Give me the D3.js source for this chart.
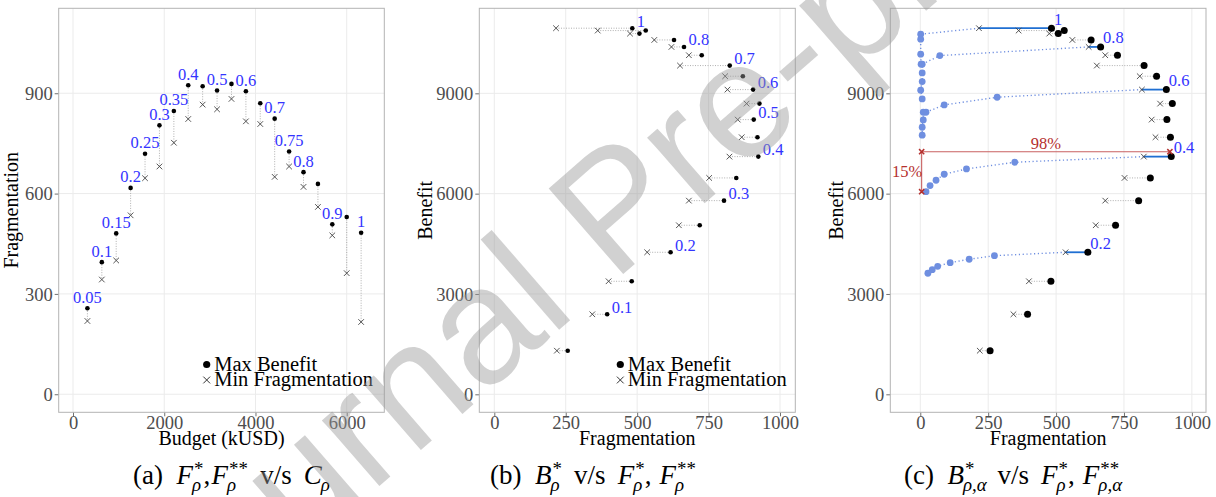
<!DOCTYPE html>
<html><head><meta charset="utf-8">
<script src="https://cdn.jsdelivr.net/npm/d3@7"></script>
<style>body{margin:0;background:#fff} svg{display:block}</style>
</head><body><svg id="chart" width="1216" height="497"></svg>
<script>
// ---------------- data ----------------
const rho = [0.05,0.1,0.15,0.2,0.25,0.3,0.35,0.4,0.45,0.5,0.55,0.6,0.65,0.7,0.75,0.8,0.85,0.9,0.95,1];
const budget = [316,632,947,1263,1579,1895,2211,2526,2842,3158,3474,3790,4105,4421,4737,5053,5369,5684,6000,6316];
const fragMaxBenefit = [257,395,481,617,719,804,847,924,921,908,928,906,870,824,726,664,629,508,530,483];
const fragMinFrag = [219,343,400,535,646,681,752,823,866,852,883,816,808,650,681,620,560,475,362,216];
const benefit = [1304,2393,3380,4247,5055,5791,6470,7107,7687,8214,8692,9111,9511,9829,10139,10387,10596,10786,10876,10947];

const labelsA = [0.05,0.1,0.15,0.2,0.25,0.3,0.35,0.4,0.5,0.6,0.7,0.75,0.8,0.9,1];
const labelsB = [0.1,0.2,0.3,0.4,0.5,0.6,0.7,0.8,1];
const labelsC = [0.2,0.4,0.6,0.8,1];

// alpha trade-off curves (panel c): fragmentation / benefit per rho
const curveRho = [0.2,0.4,0.6,0.8,1];
const curveFrag = [
  [273,180,110,64,44,28],
  [348,170,88,58,36,21],
  [283,88,21,11,11,7,7],
  [72,7,7,7,1.5,7],
  [1.5,1.5,1.5,3]
];
const curveBenefit = [
  [4145,4038,3937,3828,3727,3619],
  [6939,6739,6580,6400,6240,6060],
  [8883,8653,8434,8434,8204,7986,7747],
  [10128,9870,9610,9350,9093,8833],
  [10768,10618,10169,9870]
];
// red annotation
const annotFrag = [5, 919];
const annotBenefit = [7254, 6058];
const annotText = ["98%", "15%"];

const ticksBudget = [0,2000,4000,6000];
const ticksFragA = [0,300,600,900];
const ticksFrag = [0,250,500,750,1000];
const ticksBenefit = [0,3000,6000,9000];

// ---------------- layout ----------------
const svg = d3.select("#chart");
svg.append("rect").attr("width",1216).attr("height",497).attr("fill","#fff");
const SERIF = "'Liberation Serif','Times New Roman',serif";
const BLUE = "#3434ff", LBLUE = "#6f8fe0", DBLUE = "#1f6fd2", RED = "#b5302e";
const pTop = 8.3, pBottom = 412.3;

function makePanel(left, right, xDom, yDom, xt, yt, xTitle, yTitle, yTitleX) {
  const x = d3.scaleLinear().domain(xDom).range([left, right]);
  const y = d3.scaleLinear().domain(yDom).range([pBottom, pTop]);
  const g = svg.append("g");
  const grid = g.append("g");
  grid.selectAll(".gx").data(xt).join("line")
    .attr("x1", d=>x(d)).attr("x2", d=>x(d)).attr("y1", pTop).attr("y2", pBottom)
    .attr("stroke", "#ebebeb").attr("stroke-width", 1);
  grid.selectAll(".gy").data(yt).join("line")
    .attr("y1", d=>y(d)).attr("y2", d=>y(d)).attr("x1", left).attr("x2", right)
    .attr("stroke", "#ebebeb").attr("stroke-width", 1);
  const ax = g.append("g").attr("transform", `translate(0,${pBottom})`)
    .call(d3.axisBottom(x).tickValues(xt).tickFormat(d3.format("d")).tickSize(4).tickPadding(3));
  const ay = g.append("g").attr("transform", `translate(${left},0)`)
    .call(d3.axisLeft(y).tickValues(yt).tickFormat(d3.format("d")).tickSize(4).tickPadding(2));
  [ax, ay].forEach(a => {
    a.attr("font-family", SERIF);
    a.select(".domain").remove();
    a.selectAll(".tick line").attr("stroke", "#4d4d4d").attr("stroke-width", 0.8);
    a.selectAll(".tick text").attr("fill", "#4d4d4d").style("font-family", SERIF).style("font-size", "18.5px");
  });
  ax.selectAll(".tick text").attr("y", 16.8).attr("dy", "0");
  ay.selectAll(".tick text").attr("dy", "0.34em");
  g.append("text").attr("x", (left+right)/2).attr("y", 445).attr("text-anchor","middle")
    .style("font-family", SERIF).style("font-size","20px").text(xTitle);
  g.append("text").attr("transform", `translate(${yTitleX},${(pTop+pBottom)/2}) rotate(-90)`)
    .attr("text-anchor","middle").style("font-family", SERIF).style("font-size","20px").text(yTitle);
  const content = svg.append("g");
  const border = () => svg.append("rect").attr("x", left).attr("y", pTop)
    .attr("width", right-left).attr("height", pBottom-pTop)
    .attr("fill","none").attr("stroke","#b3b3b3").attr("stroke-width",1);
  return {x, y, g: content, border};
}

function cross(sel, cx, cy, s, color, w) {
  sel.append("path").attr("d", `M${cx-s},${cy-s}L${cx+s},${cy+s}M${cx-s},${cy+s}L${cx+s},${cy-s}`)
    .attr("stroke", color).attr("stroke-width", w).attr("fill","none");
}

function legend(g, x0) {
  g.append("circle").attr("cx", x0).attr("cy", 364.5).attr("r", 3.6).attr("fill","#000");
  g.append("text").attr("x", x0+7.5).attr("y", 371).style("font-family", SERIF).style("font-size","20.5px").text("Max Benefit");
  cross(g, x0, 380, 3.4, "#333", 1);
  g.append("text").attr("x", x0+7.5).attr("y", 385.5).style("font-family", SERIF).style("font-size","20.5px").text("Min Fragmentation");
}

const idx = r => rho.findIndex(v => Math.abs(v-r) < 1e-9);

// ---------- Panel A ----------
const A = makePanel(58.7, 384.3, [-313.5, 6824], [-54, 1154], ticksBudget, ticksFragA,
  "Budget (kUSD)", "Fragmentation", 17.5);
rho.forEach((r,i) => {
  A.g.append("line").attr("x1", A.x(budget[i])).attr("x2", A.x(budget[i]))
    .attr("y1", A.y(fragMaxBenefit[i])).attr("y2", A.y(fragMinFrag[i]))
    .attr("stroke","#9a9a9a").attr("stroke-width",0.8).attr("stroke-dasharray","1,1.5");
});
rho.forEach((r,i) => cross(A.g, A.x(budget[i]), A.y(fragMinFrag[i]), 2.8, "#444", 0.9));
rho.forEach((r,i) => A.g.append("circle").attr("cx", A.x(budget[i])).attr("cy", A.y(fragMaxBenefit[i])).attr("r", 2.3).attr("fill","#000"));
labelsA.forEach(r => {
  const i = idx(r);
  A.g.append("text").attr("x", A.x(budget[i])).attr("y", A.y(fragMaxBenefit[i]) - 5.5)
    .attr("text-anchor","middle").attr("fill", BLUE).style("font-family", SERIF).style("font-size","16.5px").text(String(r));
});
legend(A.g, 206.7);
A.border();

// ---------- Panel B ----------
const B = makePanel(479.3, 795.3, [-52.5, 1053.5], [-538, 11542], ticksFrag, ticksBenefit,
  "Fragmentation", "Benefit", 431.5);
rho.forEach((r,i) => {
  B.g.append("line").attr("x1", B.x(fragMinFrag[i])).attr("x2", B.x(fragMaxBenefit[i]))
    .attr("y1", B.y(benefit[i])).attr("y2", B.y(benefit[i]))
    .attr("stroke","#9a9a9a").attr("stroke-width",0.8).attr("stroke-dasharray","1,1.5");
});
rho.forEach((r,i) => cross(B.g, B.x(fragMinFrag[i]), B.y(benefit[i]), 2.8, "#444", 0.9));
rho.forEach((r,i) => B.g.append("circle").attr("cx", B.x(fragMaxBenefit[i])).attr("cy", B.y(benefit[i])).attr("r", 2.3).attr("fill","#000"));
labelsB.forEach(r => {
  const i = idx(r);
  B.g.append("text").attr("x", B.x(fragMaxBenefit[i]) + 4.5).attr("y", B.y(benefit[i]) - 1.5)
    .attr("fill", BLUE).style("font-family", SERIF).style("font-size","16.5px").text(String(r));
});
legend(B.g, 620.3);
B.border();

// ---------- Panel C ----------
const C = makePanel(890.3, 1206, [-110.4, 1052], [-538, 11542], ticksFrag, ticksBenefit,
  "Fragmentation", "Benefit", 843);
const line = d3.line().x(d=>C.x(d[0])).y(d=>C.y(d[1]));
curveRho.forEach((r,k) => {
  const i = idx(r);
  const pts = [[fragMinFrag[i], benefit[i]]].concat(curveFrag[k].map((f,j)=>[f, curveBenefit[k][j]]));
  C.g.append("path").attr("d", line(pts)).attr("fill","none").attr("stroke", LBLUE)
    .attr("stroke-width", 1.4).attr("stroke-dasharray","1.2,2.6");
});
curveRho.forEach((r,k) => {
  curveFrag[k].forEach((f,j) => C.g.append("circle").attr("cx", C.x(f)).attr("cy", C.y(curveBenefit[k][j]))
    .attr("r", 3.4).attr("fill", LBLUE));
});
rho.forEach((r,i) => {
  const hi = curveRho.includes(r);
  C.g.append("line").attr("x1", C.x(fragMinFrag[i])).attr("x2", C.x(fragMaxBenefit[i]))
    .attr("y1", C.y(benefit[i])).attr("y2", C.y(benefit[i]))
    .attr("stroke", hi ? DBLUE : "#9a9a9a").attr("stroke-width", hi ? 1.8 : 0.8)
    .attr("stroke-dasharray", hi ? null : "1,1.5");
});
rho.forEach((r,i) => cross(C.g, C.x(fragMinFrag[i]), C.y(benefit[i]), 2.8, "#444", 0.9));
rho.forEach((r,i) => C.g.append("circle").attr("cx", C.x(fragMaxBenefit[i])).attr("cy", C.y(benefit[i])).attr("r", 3.5).attr("fill","#000"));
// red annotation
const ax0 = C.x(annotFrag[0]), ax1 = C.x(annotFrag[1]), ay0 = C.y(annotBenefit[0]), ay1 = C.y(annotBenefit[1]);
C.g.append("line").attr("x1", ax0).attr("x2", ax1).attr("y1", ay0).attr("y2", ay0).attr("stroke", "#c96060").attr("stroke-width", 1.1);
C.g.append("line").attr("x1", ax0).attr("x2", ax0).attr("y1", ay0).attr("y2", ay1).attr("stroke", "#c96060").attr("stroke-width", 1.1);
cross(C.g, ax0, ay0, 2.6, RED, 1.5); cross(C.g, ax1, ay0, 2.6, RED, 1.5); cross(C.g, ax0, ay1, 2.6, RED, 1.5);
C.g.append("text").attr("x", (ax0+ax1)/2).attr("y", ay0 - 3).attr("text-anchor","middle").attr("fill", RED)
  .style("font-family", SERIF).style("font-size","16.5px").text(annotText[0]);
C.g.append("text").attr("x", ax0 + 0.5).attr("y", (ay0+ay1)/2 + 5.5).attr("text-anchor","end").attr("fill", RED)
  .style("font-family", SERIF).style("font-size","16.5px").text(annotText[1]);
labelsC.forEach(r => {
  const i = idx(r);
  C.g.append("text").attr("x", C.x(fragMaxBenefit[i]) + 2.5).attr("y", C.y(benefit[i]) - 3.5)
    .attr("fill", BLUE).style("font-family", SERIF).style("font-size","16.5px").text(String(r));
});
C.border();

// ---------- captions ----------
function caption(cx, y, pieces, fs) {
  const g = svg.append("g").attr("font-family", SERIF).attr("font-size", fs);
  const items = [];
  pieces.forEach(p => {
    const els = [];
    const t = g.append("text").attr("y", 0).attr("font-family", SERIF)
      .attr("font-style", p.i ? "italic" : "normal").text(p.t);
    const tw = t.node().getComputedTextLength();
    els.push([t, 0]);
    let w = tw;
    if (p.sup || p.sub) {
      let sw = 0;
      if (p.sup) {
        const s = g.append("text").attr("y", -fs*0.34).attr("font-family", SERIF).attr("font-size", fs*0.7).text(p.sup);
        els.push([s, tw + 1]); sw = Math.max(sw, s.node().getComputedTextLength() + 1);
      }
      if (p.sub) {
        const s = g.append("text").attr("y", fs*0.26).attr("font-family", SERIF).attr("font-size", fs*0.7)
          .attr("font-style","italic").text(p.sub);
        els.push([s, tw - 1]); sw = Math.max(sw, s.node().getComputedTextLength() - 1);
      }
      w += sw;
    }
    items.push({els, w: w + (p.gap || 0) * fs});
  });
  const W = d3.sum(items, d => d.w);
  let x = cx - W / 2;
  items.forEach(it => { it.els.forEach(([el, dx]) => el.attr("x", x + dx)); x += it.w; });
  g.attr("transform", `translate(0,${y})`);
}
const FS = 27;
const captionA = [{t:"(a)", gap:0.5},{t:"F",i:1,sup:"*",sub:"ρ"},{t:",", gap:0.05},{t:"F",i:1,sup:"**",sub:"ρ", gap:0.45},
  {t:"v/s", gap:0.45},{t:"C",i:1,sub:"ρ"}];
const captionB = [{t:"(b)", gap:0.5},{t:"B",i:1,sup:"*",sub:"ρ", gap:0.45},{t:"v/s", gap:0.45},
  {t:"F",i:1,sup:"*",sub:"ρ"},{t:",", gap:0.3},{t:"F",i:1,sup:"**",sub:"ρ"}];
const captionC = [{t:"(c)", gap:0.5},{t:"B",i:1,sup:"*",sub:"ρ,α", gap:0.4},{t:"v/s", gap:0.45},
  {t:"F",i:1,sup:"*",sub:"ρ"},{t:",", gap:0.3},{t:"F",i:1,sup:"**",sub:"ρ,α"}];
caption(231.5, 484, captionA, FS);
caption(593, 484, captionB, FS);
caption(1013, 484, captionC, FS);

// ---------- watermark ----------
svg.append("text").attr("transform","translate(170,668) rotate(-41)")
  .style("font-family","'Liberation Sans',Arial,sans-serif").style("font-size","165px")
  .attr("fill","#999").attr("fill-opacity",0.45).text("Journal Pre-proof");
</script></body></html>
